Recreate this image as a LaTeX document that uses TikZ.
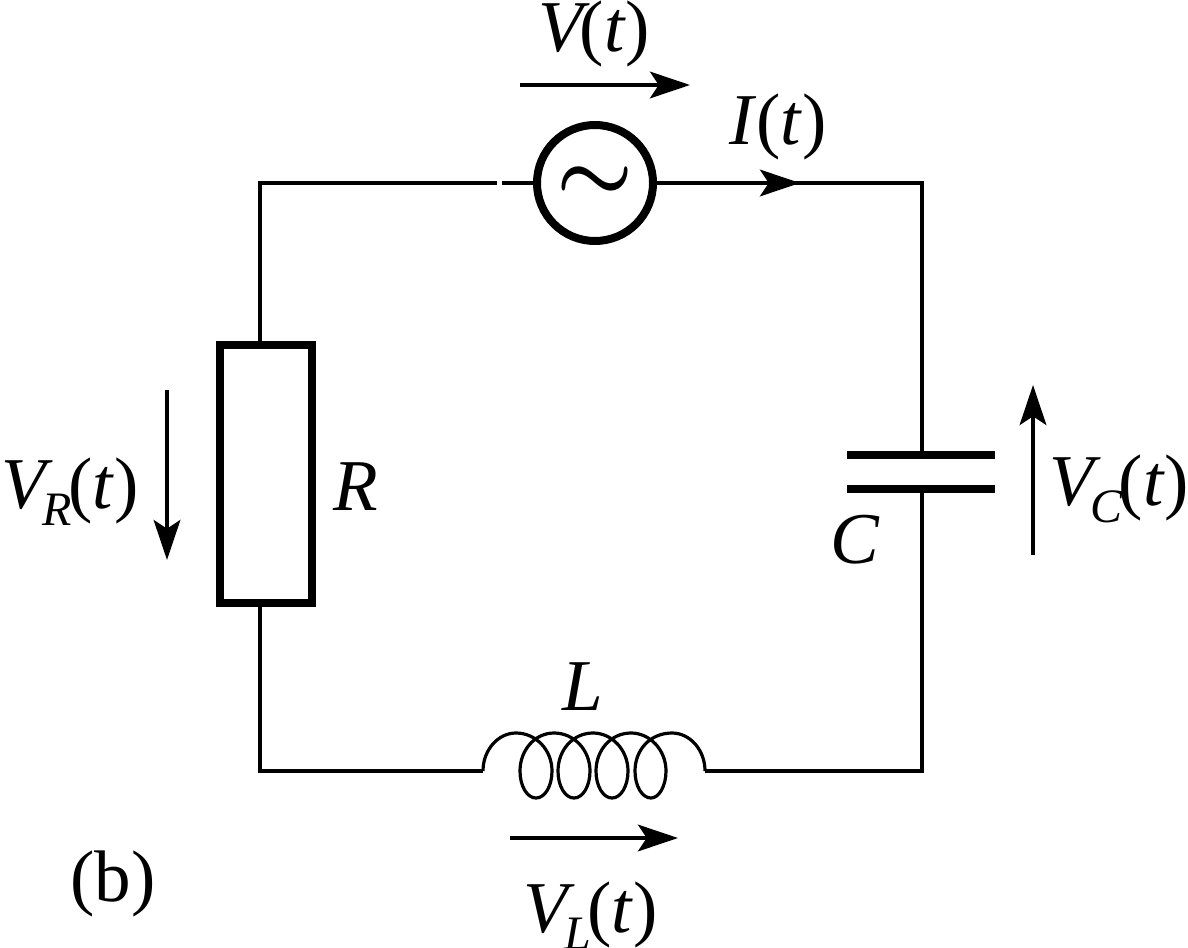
\documentclass[tikz,border=0pt]{standalone}
\usepackage{fontspec}
\setmainfont{Liberation Serif}
\usetikzlibrary{arrows.meta}
\tikzset{
  x=0.75pt,y=-0.75pt,
  wire/.style={line width=2.6pt,line join=miter},
  thick part/.style={line width=5.5pt,draw=black},
  src part/.style={line width=6pt,draw=black},
  plate/.style={line width=5.6pt},
  varrow/.style={line width=2.6pt,-{Stealth[length=30pt,width=20pt,inset=6.5pt]}},
  lbl/.style={inner sep=0pt,anchor=base west,font=\fontsize{54.75}{60}\selectfont}
}
\newcommand{\sbx}[1]{\kern-8pt\raisebox{-13pt}{\fontsize{36}{40}\selectfont\itshape #1}\kern-2.5pt}
\begin{document}
\begin{tikzpicture}
\useasboundingbox (0,0) rectangle (1188,948);
% components
\node[circle,src part,minimum size=87pt,inner sep=0pt] (src) at (595,183) {};
\node[inner sep=0pt,scale=2.6,font=\Huge\boldmath] (tilde) at (595,184) {$\sim$};
\node[rectangle,thick part,minimum width=69pt,minimum height=193.5pt,inner sep=0pt] (res) at (266,474) {};
\coordinate (tl) at (260,183);
\coordinate (tr) at (922,183);
\coordinate (br) at (922,771);
\coordinate (bl) at (260,771);
\coordinate (resT) at (260,345);
\coordinate (resB) at (260,603);
\coordinate (gapA) at (497,183);
\coordinate (gapB) at (502,183);
\coordinate (coilL) at (483,771);
\coordinate (coilR) at (705,771);
\coordinate (capT) at (922,455);
\coordinate (capB) at (922,489);
\coordinate (ptl) at (847,455);
\coordinate (ptr) at (995,455);
\coordinate (pbl) at (847,489);
\coordinate (pbr) at (995,489);
\coordinate (curTip) at (800,183);
% wires
\draw[wire] (resT) -- (tl) -- (gapA);
\draw[wire] (gapB) -- (src.west);
\draw[wire] (src.east) -- (tr) -- (capT);
\draw[wire] (capB) -- (br) -- (coilR);
\draw[wire] (coilL) -- (bl) -- (resB);
\draw[plate] (ptl) -- (ptr);
\draw[plate] (pbl) -- (pbr);
% coil
\draw[line width=2.4pt] (coilL)
  .. controls (483,750) and (498,733) .. (516,733)
  .. controls (536,733) and (552,750) .. (552,771)
  .. controls (552,786) and (545,798) .. (536,798)
  .. controls (527,798) and (520,786) .. (520,771)
  .. controls (520,750) and (535,733) .. (554,733)
  .. controls (574,733) and (590,750) .. (590,771)
  .. controls (590,786) and (583,798) .. (574,798)
  .. controls (565,798) and (558,786) .. (558,771)
  .. controls (558,750) and (573,733) .. (593,733)
  .. controls (612,733) and (628,750) .. (628,771)
  .. controls (628,786) and (621,798) .. (612,798)
  .. controls (603,798) and (596,786) .. (596,771)
  .. controls (596,750) and (611,733) .. (631,733)
  .. controls (650,733) and (666,750) .. (666,771)
  .. controls (666,786) and (659,798) .. (651,798)
  .. controls (642,798) and (635,786) .. (635,771)
  .. controls (635,750) and (650,733) .. (672,733)
  .. controls (690,733) and (705,750) .. (coilR);
% arrows
\coordinate (aVs) at (520,85); \coordinate (aVe) at (690,85);
\coordinate (aLs) at (510,838); \coordinate (aLe) at (678,838);
\coordinate (aRs) at (167,390); \coordinate (aRe) at (167,560);
\coordinate (aCs) at (1033,555); \coordinate (aCe) at (1033,385);
\draw[varrow] (aVs) -- (aVe);
\draw[varrow] (aLs) -- (aLe);
\draw[varrow] (aRs) -- (aRe);
\draw[varrow] (aCs) -- (aCe);
\draw[varrow] (src.east) -- (curTip);
% labels
\node[lbl] (lV) at (538,52) {\textit{V}\kern-7.5pt(\textit{t})};
\node[lbl] (lI) at (729,145) {\textit{I}(\textit{t})};
\node[lbl] (lVR) at (1,508) {\textit{V}\sbx{R}(\textit{t})};
\node[lbl] (lR) at (333,510) {\textit{R}};
\node[lbl] (lC) at (830,563) {\textit{C}};
\node[lbl] (lVC) at (1049,505) {\textit{V}\sbx{C}(\textit{t})};
\node[lbl] (lL) at (562,710) {\textit{L}};
\node[lbl] (lVL) at (523,932) {\textit{V}\sbx{L}(\textit{t})};
\node[lbl] (lb) at (70,901) {(b)};
\end{tikzpicture}
\end{document}
